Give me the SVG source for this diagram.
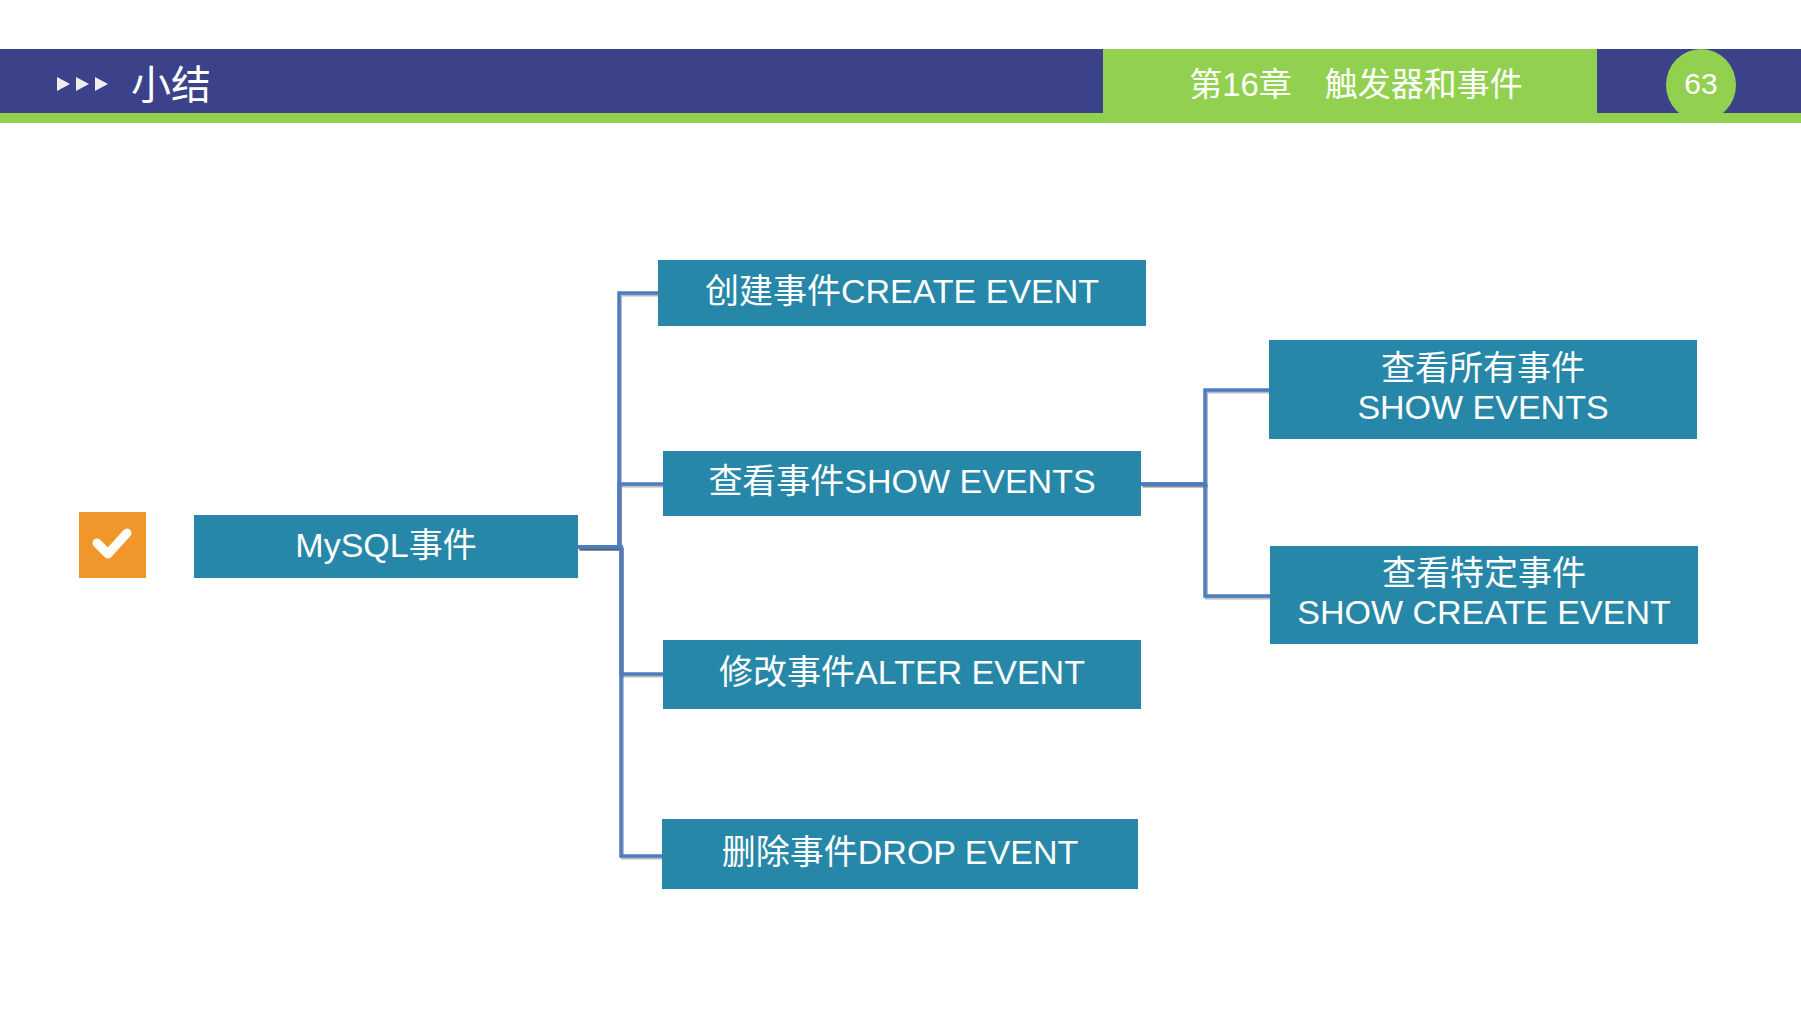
<svg xmlns="http://www.w3.org/2000/svg" width="1801" height="1013" viewBox="0 0 1801 1013">
<style>
.t{font-family:"Liberation Sans","Noto Sans CJK SC",sans-serif;fill:#ffffff;text-anchor:middle}
.box{fill:#2787a9}
.ln{fill:none;stroke:#4e7cc2;stroke-width:3.5}
.sh{fill:none;stroke:#333a4a;stroke-width:3;stroke-opacity:0.35}
</style>
<rect x="0" y="0" width="1801" height="1013" fill="#ffffff"/>
<g id="header">
<rect x="0" y="49" width="1801" height="64" fill="#3b4289"/>
<rect x="0" y="113" width="1801" height="10" fill="#92d050"/>
<rect x="1103" y="49" width="494" height="64" fill="#92d050"/>
<ellipse cx="1701" cy="85" rx="35" ry="36" fill="#92d050"/>
<polygon points="57,77 70,84 57,91" fill="#eeeeee"/>
<polygon points="76,77 89,84 76,91" fill="#eeeeee"/>
<polygon points="95,77 108,84 95,91" fill="#eeeeee"/>
<text class="t" x="171" y="99" font-size="40">小结</text>
<text class="t" x="1356" y="96" font-size="33">第16章　触发器和事件</text>
<text class="t" x="1701" y="94" font-size="30">63</text>
</g>
<g id="checkbox">
<rect x="79" y="512" width="67" height="66" fill="#f0962a"/>
<path d="M97 543 L108 554 L127 533" fill="none" stroke="#ffffff" stroke-width="9" stroke-linecap="round" stroke-linejoin="round"/>
</g>
<g id="connectors">
<g transform="translate(1.5,2)">
<path class="sh" d="M578 547 H619 V293 H658"/>
<path class="sh" d="M578 547 H619 V484 H663"/>
<path class="sh" d="M578 547 H621 V674 H663"/>
<path class="sh" d="M578 547 H621 V856 H662"/>
<path class="sh" d="M1141 484 H1205 V390 H1269"/>
<path class="sh" d="M1141 484 H1205 V596 H1270"/>
</g>
<path class="ln" d="M578 547 H619 V293 H658"/>
<path class="ln" d="M578 547 H619 V484 H663"/>
<path class="ln" d="M578 547 H621 V674 H663"/>
<path class="ln" d="M578 547 H621 V856 H662"/>
<path class="ln" d="M1141 484 H1205 V390 H1269"/>
<path class="ln" d="M1141 484 H1205 V596 H1270"/>
</g>
<g id="mysql">
<rect class="box" x="194" y="515" width="384" height="63"/>
<text class="t" x="386" y="557" font-size="34">MySQL事件</text>
</g>
<g id="create">
<rect class="box" x="658" y="260" width="488" height="66"/>
<text class="t" x="902" y="303" font-size="34">创建事件CREATE EVENT</text>
</g>
<g id="show">
<rect class="box" x="663" y="451" width="478" height="65"/>
<text class="t" x="902" y="493" font-size="34">查看事件SHOW EVENTS</text>
</g>
<g id="alter">
<rect class="box" x="663" y="640" width="478" height="69"/>
<text class="t" x="902" y="684" font-size="34">修改事件ALTER EVENT</text>
</g>
<g id="drop">
<rect class="box" x="662" y="819" width="476" height="70"/>
<text class="t" x="900" y="864" font-size="34">删除事件DROP EVENT</text>
</g>
<g id="showall">
<rect class="box" x="1269" y="340" width="428" height="99"/>
<text class="t" x="1483" y="380" font-size="34">查看所有事件</text>
<text class="t" x="1483" y="419" font-size="34">SHOW EVENTS</text>
</g>
<g id="showcreate">
<rect class="box" x="1270" y="546" width="428" height="98"/>
<text class="t" x="1484" y="585" font-size="34">查看特定事件</text>
<text class="t" x="1484" y="624" font-size="34">SHOW CREATE EVENT</text>
</g>
</svg>
